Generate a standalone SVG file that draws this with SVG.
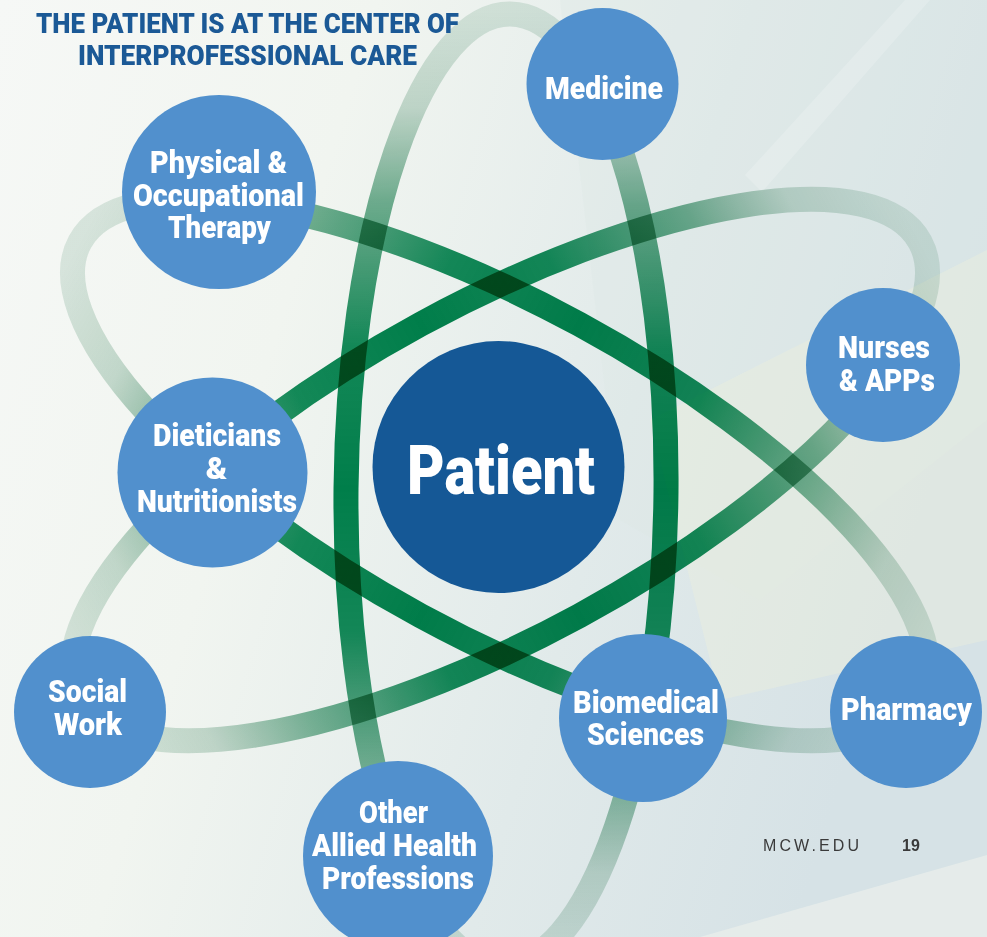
<svg xmlns="http://www.w3.org/2000/svg" width="987" height="937" viewBox="0 0 987 937">
  <defs>
    <linearGradient id="bg" x1="0" y1="0" x2="987" y2="300" gradientUnits="userSpaceOnUse">
      <stop offset="0" stop-color="#f6f8f6"/>
      <stop offset="0.35" stop-color="#f1f5f0"/>
      <stop offset="0.7" stop-color="#e1eaea"/>
      <stop offset="1" stop-color="#d6e2e6"/>
    </linearGradient>
    <linearGradient id="orbit" gradientUnits="userSpaceOnUse" x1="0" y1="-478" x2="0" y2="478">
      <stop offset="0" stop-color="#2f7d55" stop-opacity="0.15"/>
      <stop offset="0.1" stop-color="#2f7d55" stop-opacity="0.25"/>
      <stop offset="0.2" stop-color="#16804f" stop-opacity="0.6"/>
      <stop offset="0.35" stop-color="#00854f" stop-opacity="0.92"/>
      <stop offset="0.5" stop-color="#00854f" stop-opacity="1"/>
      <stop offset="0.65" stop-color="#00854f" stop-opacity="0.92"/>
      <stop offset="0.8" stop-color="#16804f" stop-opacity="0.55"/>
      <stop offset="0.9" stop-color="#2f7d55" stop-opacity="0.25"/>
      <stop offset="1" stop-color="#2f7d55" stop-opacity="0.15"/>
    </linearGradient>
  </defs>
  <style>
    .orbit{fill:none;stroke:url(#orbit);stroke-width:25;mix-blend-mode:multiply}
    .node{fill:#5190cd}
    .lbl{font-family:Roboto,"Liberation Sans",sans-serif;font-weight:900;font-size:32px;fill:#ffffff;text-anchor:middle}
    .title{font-family:Roboto,"Liberation Sans",sans-serif;font-weight:900;font-size:27px;fill:#1b5996;text-anchor:middle}
    .foot{font-family:"Liberation Sans",Arial,sans-serif;font-size:16px;fill:#3a3a3a}
  </style>

  <!-- background -->
  <rect x="0" y="0" width="987" height="937" fill="url(#bg)"/>
  <polygon points="560,0 987,0 987,420 760,600 620,520" fill="#dde8e6" opacity="0.35"/>
  <polygon points="650,420 987,250 987,640 720,700" fill="#eef1dc" opacity="0.4"/>
  <polygon points="745,175 905,0 930,0 762,192" fill="#ffffff" opacity="0.18"/>
  <polygon points="700,937 987,855 987,937" fill="#e8eeeb" opacity="0.8"/>

  <!-- connectors: orbits -->
  <g id="orbits">
    <ellipse class="orbit" cx="0" cy="0" rx="160" ry="476" transform="translate(506,490) rotate(0.5)"/>
    <ellipse class="orbit" cx="0" cy="0" rx="166" ry="478" transform="translate(500,470) rotate(-61.5)"/>
    <ellipse class="orbit" cx="0" cy="0" rx="166" ry="478" transform="translate(500,470) rotate(61.5)"/>
  </g>

  <!-- title -->
  <g id="title">
    <text class="title" x="247.5" y="33" textLength="423" lengthAdjust="spacingAndGlyphs">THE PATIENT IS AT THE CENTER OF</text>
    <text class="title" x="247.5" y="65" textLength="339" lengthAdjust="spacingAndGlyphs">INTERPROFESSIONAL CARE</text>
  </g>

  <g id="medicine">
    <circle class="node" cx="602.5" cy="84" r="76"/>
    <text class="lbl" x="604" y="99" textLength="118" lengthAdjust="spacingAndGlyphs">Medicine</text>
  </g>

  <g id="physical-occupational-therapy">
    <circle class="node" cx="219" cy="192" r="97"/>
    <text class="lbl" x="218.5" y="173" textLength="137" lengthAdjust="spacingAndGlyphs">Physical &amp;</text>
    <text class="lbl" x="218.5" y="206" textLength="171" lengthAdjust="spacingAndGlyphs">Occupational</text>
    <text class="lbl" x="219.5" y="238" textLength="103" lengthAdjust="spacingAndGlyphs">Therapy</text>
  </g>

  <g id="nurses-apps">
    <circle class="node" cx="883" cy="365" r="77"/>
    <text class="lbl" x="884" y="358" textLength="92" lengthAdjust="spacingAndGlyphs">Nurses</text>
    <text class="lbl" x="887" y="391" textLength="96" lengthAdjust="spacingAndGlyphs">&amp; APPs</text>
  </g>

  <g id="patient">
    <circle cx="498.5" cy="467" r="126" fill="#155896"/>
    <text class="lbl" x="501" y="494" style="font-size:69px" textLength="188" lengthAdjust="spacingAndGlyphs">Patient</text>
  </g>

  <g id="dieticians-nutritionists">
    <circle class="node" cx="212.5" cy="472.5" r="95"/>
    <text class="lbl" x="217" y="446" textLength="128" lengthAdjust="spacingAndGlyphs">Dieticians</text>
    <text class="lbl" x="216.5" y="479">&amp;</text>
    <text class="lbl" x="217" y="512" textLength="160" lengthAdjust="spacingAndGlyphs">Nutritionists</text>
  </g>

  <g id="social-work">
    <circle class="node" cx="90" cy="712" r="76"/>
    <text class="lbl" x="87.5" y="702" textLength="79" lengthAdjust="spacingAndGlyphs">Social</text>
    <text class="lbl" x="88" y="735" textLength="68" lengthAdjust="spacingAndGlyphs">Work</text>
  </g>

  <g id="biomedical-sciences">
    <circle class="node" cx="643" cy="718" r="84"/>
    <text class="lbl" x="646" y="712.5" textLength="146" lengthAdjust="spacingAndGlyphs">Biomedical</text>
    <text class="lbl" x="645.5" y="745" textLength="117" lengthAdjust="spacingAndGlyphs">Sciences</text>
  </g>

  <g id="pharmacy">
    <circle class="node" cx="906" cy="712" r="76"/>
    <text class="lbl" x="906.5" y="720" textLength="131" lengthAdjust="spacingAndGlyphs">Pharmacy</text>
  </g>

  <g id="other-allied-health-professions">
    <circle class="node" cx="398" cy="856" r="95"/>
    <text class="lbl" x="393.5" y="823" textLength="69" lengthAdjust="spacingAndGlyphs">Other</text>
    <text class="lbl" x="394.5" y="856" textLength="165" lengthAdjust="spacingAndGlyphs">Allied Health</text>
    <text class="lbl" x="398" y="889" textLength="152" lengthAdjust="spacingAndGlyphs">Professions</text>
  </g>

  <g id="footer">
    <text class="foot" x="763" y="851" textLength="100" lengthAdjust="spacing" style="letter-spacing:4px">MCW.EDU</text>
    <text class="foot" x="902" y="851" textLength="21" lengthAdjust="spacing" style="font-weight:700;letter-spacing:3px">19</text>
  </g>
</svg>
